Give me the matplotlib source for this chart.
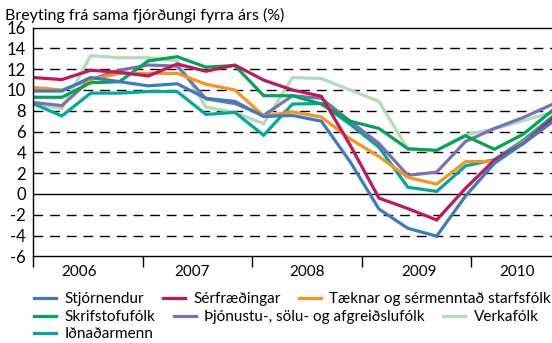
import matplotlib
matplotlib.use("Agg")
import matplotlib.pyplot as plt
import numpy as np

plt.rcParams['font.family'] = ['Lato', 'DejaVu Sans']

# ársfjórðungar 2006 Q1 - 2010 Q3
years = ["2006", "2007", "2008", "2009", "2010"]
year_label_pos = [1.6, 5.5, 9.5, 13.4, 16.8]
year_bounds = [0, 3.8, 7.6, 11.4, 15.2]

stjornendur = [9.9, 9.9, 11.2, 10.8, 10.4, 10.6, 9.2, 8.9, 7.45, 7.55, 7.0, 3.1, -1.45, -3.3, -4.05, -0.2, 2.95, 4.85, 6.9]
serfraedingar = [11.2, 11.0, 11.9, 11.7, 11.35, 12.5, 11.8, 12.4, 10.95, 10.0, 9.4, 4.7, -0.4, -1.4, -2.5, 0.55, 3.25, 4.85, 7.2]
taeknar = [10.25, 10.0, 11.0, 11.6, 11.6, 11.6, 10.55, 10.0, 7.5, 7.9, 7.4, 5.3, 3.6, 1.6, 0.95, 3.1, 3.15, 5.0, 7.1]
skrifstofufolk = [9.3, 9.3, 10.7, 10.8, 12.8, 13.2, 12.2, 12.35, 9.45, 9.45, 8.65, 7.0, 6.3, 4.35, 4.2, 5.6, 4.3, 5.75, 8.0]
thjonustu = [8.8, 8.5, 11.0, 11.9, 12.4, 12.3, 9.15, 8.7, 7.55, 9.45, 9.2, 7.0, 4.85, 1.8, 2.1, 5.05, 6.3, 7.35, 8.6]
verkafolk = [8.7, 8.2, 13.3, 13.1, 13.1, 12.8, 8.35, 7.85, 6.75, 11.2, 11.1, 10.0, 8.9, 4.3, 4.2, 5.7, 6.25, 7.05, 7.85]
idnadarmenn = [8.7, 7.5, 9.7, 9.7, 9.85, 9.85, 7.65, 7.85, 5.65, 8.65, 8.7, 6.7, 4.5, 0.65, 0.25, 2.7, 3.3, 5.15, 7.4]

series = {
    "Verkafólk": (verkafolk, "#b2dcb6"),
    "Iðnaðarmenn": (idnadarmenn, "#00a99d"),
    "Þjónustu-, sölu- og afgreiðslufólk": (thjonustu, "#7a70b8"),
    "Skrifstofufólk": (skrifstofufolk, "#00a651"),
    "Tæknar og sérmenntað starfsfólk": (taeknar, "#f7941d"),
    "Sérfræðingar": (serfraedingar, "#c2185b"),
    "Stjórnendur": (stjornendur, "#3b7bc2"),
}

fig = plt.figure(figsize=(5.52, 3.43), dpi=100)
ax = fig.add_axes([33 / 552, 1 - 256.4 / 343, 1 - 33 / 552, (256.4 - 27.6) / 343])

x = np.arange(len(stjornendur))
lines = {}
for name, (vals, col) in series.items():
    lines[name], = ax.plot(x, vals, color=col, lw=2.3, solid_joinstyle="miter", label=name)

# rúðunet
for yv in [14, 12, 10, 8, 6, 4, 2, -2, -4]:
    ax.axhline(yv, color="black", lw=1, dashes=(7, 5), zorder=0)
ax.axhline(0, color="black", lw=1, zorder=0)

ax.set_xlim(0, 18)
ax.set_ylim(-6, 16)
ax.set_yticks(range(-6, 17, 2))
ax.set_yticklabels([str(v) for v in range(-6, 17, 2)], fontsize=12)
ax.tick_params(axis="y", length=0, pad=5)

ax.set_xticks(year_bounds)
ax.set_xticklabels([])
ax.set_xticks(year_label_pos, minor=True)
ax.set_xticklabels(years, minor=True, fontsize=11)
ax.tick_params(axis="x", which="major", direction="out", length=8, width=1)
ax.tick_params(axis="x", which="minor", length=0, pad=6)

ax.spines["right"].set_visible(False)
for s in ["left", "bottom", "top"]:
    ax.spines[s].set_linewidth(1)

fig.text(5 / 552, 1 - 15 / 343, "Breyting frá sama fjórðungi fyrra árs (%)", fontsize=11.5, va="center", ha="left")

rows = [
    ["Stjórnendur", "Sérfræðingar", "Tæknar og sérmenntað starfsfólk"],
    ["Skrifstofufólk", "Þjónustu-, sölu- og afgreiðslufólk", "Verkafólk"],
    ["Iðnaðarmenn"],
]
row_y = [299, 317, 334]
for names, yy in zip(rows, row_y):
    fig.legend([lines[n] for n in names], names, ncol=len(names),
               loc="center left", bbox_to_anchor=(34 / 552, 1 - yy / 343),
               frameon=False, fontsize=11, handlelength=1.45, handletextpad=0.55,
               columnspacing=1.2, borderpad=0, borderaxespad=0)

fig.savefig("out.png", dpi=100)
